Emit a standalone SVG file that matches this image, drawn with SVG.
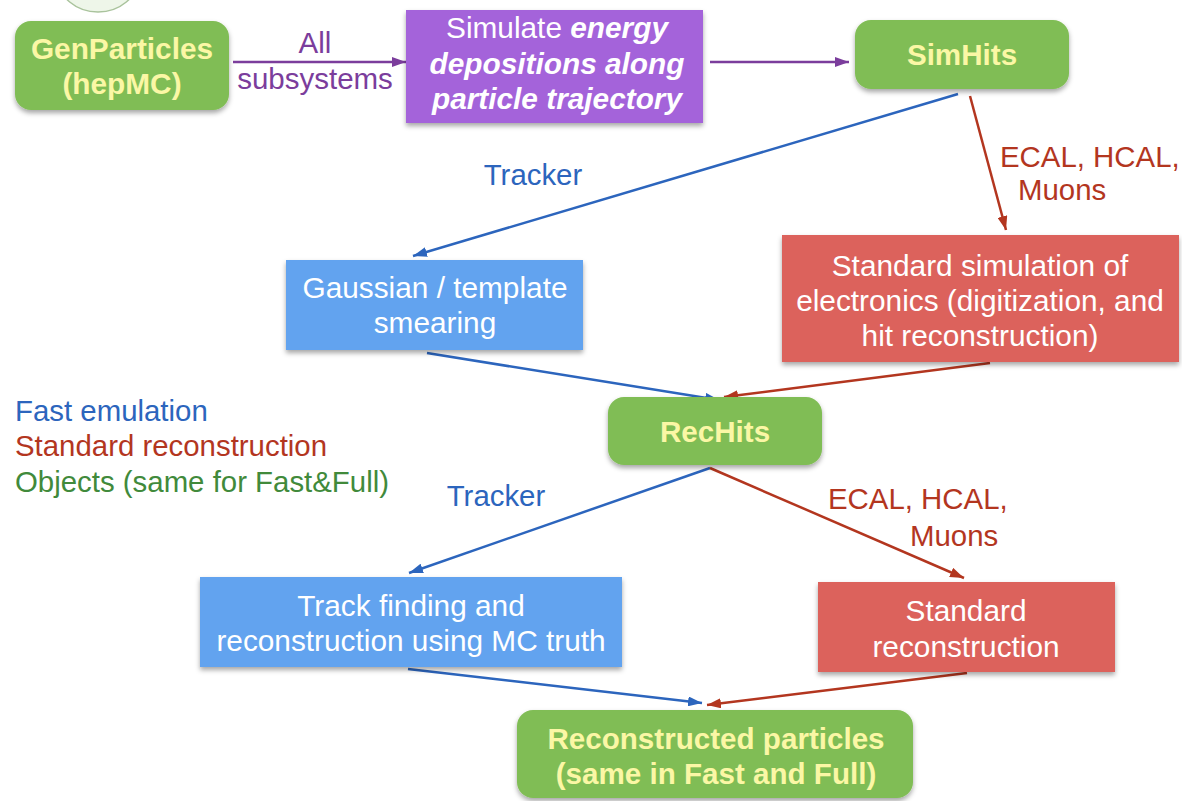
<svg xmlns="http://www.w3.org/2000/svg" width="1182" height="801" viewBox="0 0 1182 801">
<defs>
<filter id="sh" x="-10%" y="-10%" width="120%" height="130%">
<feDropShadow dx="0" dy="3" stdDeviation="2.5" flood-color="#000" flood-opacity="0.35"/>
</filter>
<marker id="aP" viewBox="0 0 14 10" refX="14" refY="5" markerWidth="14" markerHeight="10" markerUnits="userSpaceOnUse" orient="auto"><path d="M0,0 L14,5 L0,10 Z" fill="#7b3d9c"/></marker>
<marker id="aB" viewBox="0 0 14 10" refX="14" refY="5" markerWidth="14" markerHeight="10" markerUnits="userSpaceOnUse" orient="auto"><path d="M0,0 L14,5 L0,10 Z" fill="#2c65bd"/></marker>
<marker id="aR" viewBox="0 0 14 10" refX="14" refY="5" markerWidth="14" markerHeight="10" markerUnits="userSpaceOnUse" orient="auto"><path d="M0,0 L14,5 L0,10 Z" fill="#b3361f"/></marker>
</defs>
<style>
text{font-family:"Liberation Sans",Arial,sans-serif;}
.g{fill:#80bd55;filter:url(#sh);}
.pu{fill:#a464da;filter:url(#sh);}
.bl{fill:#62a3ef;filter:url(#sh);}
.rd{fill:#dc625b;filter:url(#sh);}
.gt{fill:#fbf7a5;font-weight:bold;font-size:29.6px;text-anchor:middle;}
.wt{fill:#ffffff;font-size:29.8px;text-anchor:middle;}
.bi{font-weight:bold;font-style:italic;}
.lp{fill:#7b3d9c;font-size:29.5px;}
.lb{fill:#2c65bd;font-size:29.4px;}
.lr{fill:#b3361f;font-size:29.4px;}
.lg{fill:#418a3b;font-size:29.4px;}
.cP{stroke:#7b3d9c;stroke-width:2.5;fill:none;marker-end:url(#aP);}
.cB{stroke:#2c65bd;stroke-width:2.5;fill:none;marker-end:url(#aB);}
.cR{stroke:#b3361f;stroke-width:2.5;fill:none;marker-end:url(#aR);}
</style>
<rect width="1182" height="801" fill="#ffffff"/>
<ellipse cx="98" cy="-22" rx="40" ry="34" fill="#eef6e9" stroke="#a9c39c" stroke-width="1.5"/>

<g id="connectors">
<line class="cP" x1="233" y1="62" x2="406" y2="62"/>
<line class="cP" x1="710" y1="62" x2="849" y2="62"/>
<line class="cB" x1="958" y1="94" x2="413" y2="256"/>
<line class="cR" x1="970" y1="96" x2="1006" y2="230"/>
<line class="cB" x1="427" y1="353" x2="719" y2="400"/>
<line class="cR" x1="990" y1="363" x2="724" y2="397"/>
<line class="cB" x1="710" y1="468" x2="409" y2="573"/>
<line class="cR" x1="710" y1="468" x2="964" y2="578"/>
<line class="cB" x1="408" y1="669" x2="702" y2="703"/>
<line class="cR" x1="967" y1="673" x2="707" y2="705"/>
<text class="lp" x="315" y="53" text-anchor="middle">All</text>
<text class="lp" x="315" y="89" text-anchor="middle">subsystems</text>
<text class="lb" x="533" y="185" text-anchor="middle">Tracker</text>
<text class="lr" x="1000" y="167">ECAL, HCAL,</text>
<text class="lr" x="1018" y="200">Muons</text>
<text class="lb" x="496" y="506" text-anchor="middle">Tracker</text>
<text class="lr" x="828" y="509">ECAL, HCAL,</text>
<text class="lr" x="910" y="546">Muons</text>
</g>

<g id="genparticles">
<rect class="g" x="15" y="21" width="214" height="89" rx="16"/>
<text class="gt" style="font-size:29.8px" x="122" y="59">GenParticles</text>
<text class="gt" style="font-size:29.8px" x="122" y="94">(hepMC)</text>
</g>

<g id="simulate">
<rect class="pu" x="406" y="10" width="297" height="113"/>
<text class="wt" x="557" y="38">Simulate <tspan class="bi">energy</tspan></text>
<text class="wt bi" x="557" y="74">depositions along</text>
<text class="wt bi" x="557" y="109">particle trajectory</text>
</g>

<g id="simhits">
<rect class="g" x="855" y="20" width="214" height="69" rx="16"/>
<text class="gt" x="962" y="65">SimHits</text>
</g>

<g id="gaussian">
<rect class="bl" x="286" y="260" width="297" height="90"/>
<text class="wt" x="435" y="298">Gaussian / template</text>
<text class="wt" x="435" y="333">smearing</text>
</g>

<g id="electronics">
<rect class="rd" x="782" y="235" width="397" height="127"/>
<text class="wt" x="980" y="276">Standard simulation of</text>
<text class="wt" x="980" y="311">electronics (digitization, and</text>
<text class="wt" x="980" y="346">hit reconstruction)</text>
</g>

<g id="rechits">
<rect class="g" x="608" y="397" width="214" height="68" rx="16"/>
<text class="gt" x="715" y="442">RecHits</text>
</g>

<g id="legend">
<text class="lb" x="15" y="421">Fast emulation</text>
<text class="lr" x="15" y="456">Standard reconstruction</text>
<text class="lg" x="15" y="492">Objects (same for Fast&amp;Full)</text>
</g>

<g id="trackfinding">
<rect class="bl" x="200" y="577" width="422" height="90"/>
<text class="wt" x="411" y="616">Track finding and</text>
<text class="wt" x="411" y="651">reconstruction using MC truth</text>
</g>

<g id="stdreco">
<rect class="rd" x="818" y="582" width="297" height="90"/>
<text class="wt" x="966" y="621">Standard</text>
<text class="wt" x="966" y="657">reconstruction</text>
</g>

<g id="recoparticles">
<rect class="g" x="517" y="710" width="396" height="88" rx="16"/>
<text class="gt" x="716" y="749">Reconstructed particles</text>
<text class="gt" x="716" y="784">(same in Fast and Full)</text>
</g>
</svg>
